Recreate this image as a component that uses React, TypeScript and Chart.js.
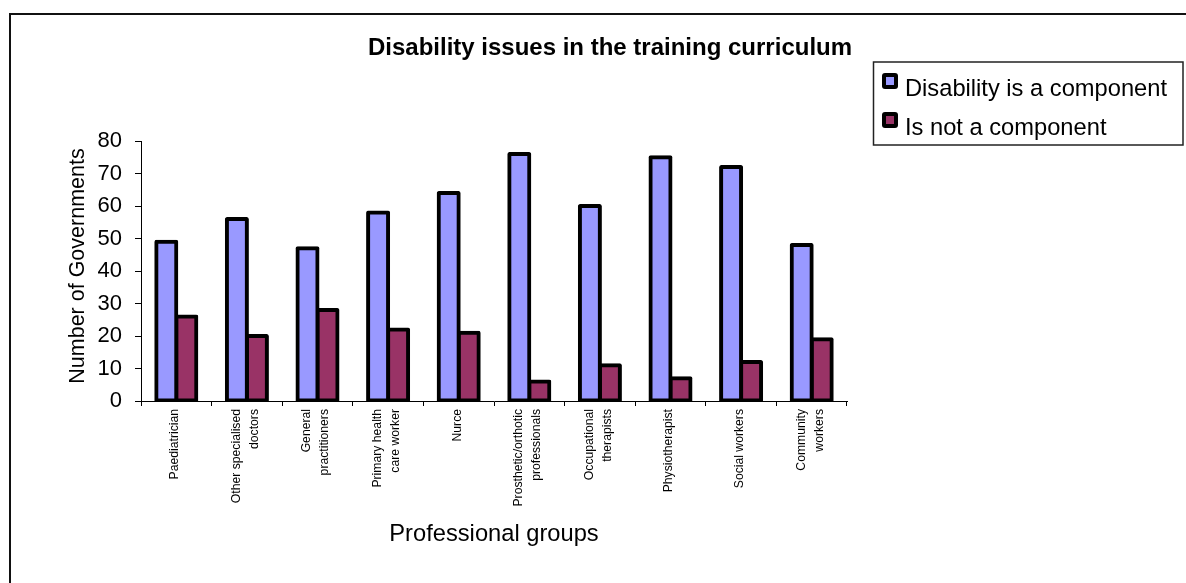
import React, { useEffect, useRef } from "react";
import { Chart, registerables } from "chart.js";

Chart.register(...registerables);

const chartTitle = "Disability issues in the training curriculum";
const xAxisTitle = "Professional groups";
const yAxisTitle = "Number of Governments";

const categories: string[][] = [
  ["Paediatrician"],
  ["Other specialised", "doctors"],
  ["General", "practitioners"],
  ["Primary health", "care worker"],
  ["Nurce"],
  ["Prosthetic/orthotic", "professionals"],
  ["Occupational", "therapists"],
  ["Physiotherapist"],
  ["Social workers"],
  ["Community", "workers"],
];

const seriesNames = ["Disability is a component", "Is not a component"];
const isComponent = [49, 56, 47, 58, 64, 76, 60, 75, 72, 48];
const notComponent = [26, 20, 28, 22, 21, 6, 11, 7, 12, 19];
const seriesColors = ["#9999FF", "#993366"];

const yMin = 0;
const yMax = 80;
const yStep = 10;

const FONT = "'Liberation Sans', Arial, sans-serif";

const framePlugin = {
  id: "frame",
  beforeDraw(chart: any) {
    const ctx = chart.ctx;
    ctx.save();
    ctx.fillStyle = "#ffffff";
    ctx.fillRect(0, 0, chart.width, chart.height);
    ctx.strokeStyle = "#111111";
    ctx.lineWidth = 2;
    ctx.beginPath();
    ctx.moveTo(10, chart.height + 5);
    ctx.lineTo(10, 14);
    ctx.lineTo(chart.width + 5, 14);
    ctx.stroke();
    ctx.restore();
  },
};

const titlePlugin = {
  id: "customTitle",
  afterDraw(chart: any) {
    const ctx = chart.ctx;
    ctx.save();
    ctx.fillStyle = "#000";
    ctx.font = `bold 24px ${FONT}`;
    ctx.textAlign = "center";
    ctx.textBaseline = "middle";
    ctx.fillText(chartTitle, 610, 48);
    // y-axis title
    ctx.font = `21.5px ${FONT}`;
    ctx.translate(78, (chart.chartArea.top + chart.chartArea.bottom) / 2 - 5);
    ctx.rotate(-Math.PI / 2);
    ctx.fillText(yAxisTitle, 0, 0);
    ctx.restore();
  },
};

const xLabelPlugin = {
  id: "xLabels",
  afterDraw(chart: any) {
    const ctx = chart.ctx;
    const xs = chart.scales.x;
    const lineGap = 18;
    ctx.save();
    ctx.fillStyle = "#000";
    ctx.font = `12.2px ${FONT}`;
    ctx.textAlign = "right";
    ctx.textBaseline = "middle";
    const top = chart.chartArea.bottom + 8;
    (chart.data.labels as string[][]).forEach((lines, i) => {
      const cx = xs.getPixelForValue(i) - 1.5;
      const n = lines.length;
      lines.forEach((line, j) => {
        const x = cx + (j - (n - 1) / 2) * lineGap;
        ctx.save();
        ctx.translate(x, top);
        ctx.rotate(-Math.PI / 2);
        ctx.fillText(line, 0, 0);
        ctx.restore();
      });
    });
    ctx.restore();
  },
};

const legendPlugin = {
  id: "boxLegend",
  afterDraw(chart: any) {
    const ctx = chart.ctx;
    ctx.save();
    ctx.strokeStyle = "#222";
    ctx.lineWidth = 1.5;
    ctx.strokeRect(873.5, 62, 309.5, 83);
    ctx.font = `23.7px ${FONT}`;
    ctx.textAlign = "left";
    ctx.textBaseline = "alphabetic";
    chart.data.datasets.forEach((ds: any, i: number) => {
      const baseY = 96 + i * 39;
      const mx = 882;
      const my = baseY - 23;
      ctx.fillStyle = "#000";
      ctx.beginPath();
      (ctx as any).roundRect(mx, my, 16, 16, 3);
      ctx.fill();
      ctx.fillStyle = ds.backgroundColor;
      ctx.fillRect(mx + 4, my + 4, 8, 8);
      ctx.fillStyle = "#000";
      ctx.fillText(ds.label, 905, baseY);
    });
    ctx.restore();
  },
};

export default function App() {
  const ref = useRef<HTMLCanvasElement | null>(null);

  useEffect(() => {
    if (!ref.current) return;
    const chart = new Chart(ref.current, {
      type: "bar",
      data: {
        labels: categories,
        datasets: [
          {
            label: seriesNames[0],
            data: isComponent,
            backgroundColor: seriesColors[0],
            borderColor: "#000",
            borderWidth: 4,
            borderRadius: 2,
            borderSkipped: false,
            inflateAmount: 2,
          },
          {
            label: seriesNames[1],
            data: notComponent,
            backgroundColor: seriesColors[1],
            borderColor: "#000",
            borderWidth: 4,
            borderRadius: 2,
            borderSkipped: false,
            inflateAmount: 2,
          },
        ],
      },
      options: {
        responsive: false,
        animation: false,
        devicePixelRatio: 1,
        layout: { padding: { left: 10, right: 339, top: 141, bottom: 34 } },
        plugins: {
          legend: { display: false },
          title: { display: false },
          tooltip: { enabled: false },
        },
        datasets: {
          bar: { categoryPercentage: 0.567, barPercentage: 1 },
        },
        scales: {
          x: {
            afterFit(scale: any) {
              scale.height = 148;
            },
            grid: {
              offset: true,
              drawOnChartArea: false,
              drawTicks: true,
              tickLength: 5,
              color: "#000",
            },
            border: { display: true, color: "#000", width: 1 },
            ticks: {
              display: false,
              autoSkip: false,
            },
            title: {
              display: true,
              text: xAxisTitle,
              color: "#000",
              font: { family: FONT, size: 23.7 },
              padding: { top: 0, bottom: 0 },
            },
          },
          y: {
            min: yMin,
            max: yMax,
            afterFit(scale: any) {
              scale.width = 131;
            },
            grid: {
              drawOnChartArea: false,
              drawTicks: true,
              tickLength: 6,
              color: "#000",
            },
            border: { display: true, color: "#000", width: 1 },
            ticks: {
              stepSize: yStep,
              color: "#000",
              padding: 13,
              font: { family: FONT, size: 22 },
            },
            title: { display: false },
          },
        },
      },
      plugins: [framePlugin, titlePlugin, xLabelPlugin, legendPlugin],
    });
    return () => chart.destroy();
  }, []);

  return (
    <div style={{ position: "fixed", left: 0, top: 0, width: 1186, height: 583 }}>
      <canvas ref={ref} width={1186} height={583} style={{ width: 1186, height: 583 }} />
    </div>
  );
}
